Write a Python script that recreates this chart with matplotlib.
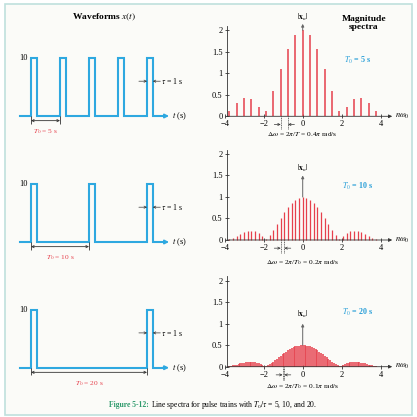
import matplotlib
matplotlib.use("Agg")
import matplotlib.pyplot as plt
import numpy as np
from matplotlib.patches import Rectangle

plt.rcParams['font.family'] = ['Liberation Serif', 'DejaVu Serif']
plt.rcParams['mathtext.fontset'] = 'stix'

#pulse trains (left column)
amplitude = 10
tau = 1
periods = [5, 10, 20]
period_texts = ["$T_0$ = 5 s", "$T_0$ = 10 s", "$T_0$ = 20 s"]

#line spectra, read for n = 0, 1, 2, ... (spectra are symmetric)
mag_5 = [2.0, 1.88, 1.56, 1.1, 0.59, 0.13, 0.22, 0.40, 0.42, 0.30, 0.12]
mag_10 = [1.0, 0.98, 0.94, 0.86, 0.76, 0.64, 0.51, 0.37, 0.23, 0.11, 0.03,
          0.09, 0.16, 0.20, 0.22, 0.21, 0.19, 0.15, 0.10, 0.05, 0.03]
mag_20 = [0.50, 0.50, 0.49, 0.48, 0.47, 0.45, 0.43, 0.41, 0.38, 0.35, 0.32,
          0.29, 0.25, 0.22, 0.18, 0.15, 0.12, 0.09, 0.06, 0.03, 0.01,
          0.02, 0.04, 0.06, 0.08, 0.09, 0.10, 0.105, 0.11, 0.11, 0.105,
          0.10, 0.095, 0.085, 0.075, 0.065, 0.05, 0.04, 0.03, 0.015, 0.01]
spectra = [mag_5, mag_10, mag_20]
line_spacing = [0.377, 0.1885, 0.0942]
dw_texts = [r"$\Delta\omega$ = 2$\pi$/$T$ = 0.4$\pi$ rad/s",
            r"$\Delta\omega$ = 2$\pi$/$T_0$ = 0.2$\pi$ rad/s",
            r"$\Delta\omega$ = 2$\pi$/$T_0$ = 0.1$\pi$ rad/s"]
dw_pairs = [(-3, -2), (-6, -5), (-11, -10)]

blue = '#2ea8e0'
red = '#e6404c'
dark = '#333333'
W = 417


def px_box(left, top, right, bottom):
    return [left / W, 1 - bottom / W, (right - left) / W, (bottom - top) / W]


def mirror(half):
    half = np.asarray(half)
    return np.concatenate([half[:0:-1], half])


fig = plt.figure(figsize=(W / 100, W / 100), dpi=100)
fig.patches.append(Rectangle((5 / W, 1 - 415 / W), 407 / W, 411 / W, transform=fig.transFigure,
                             facecolor='#fbfbf8', edgecolor='#bfe0dd', lw=1.2, zorder=-1))

fig.text(104 / W, 1 - 17 / W, "Waveforms $x(t)$", ha='center', va='center', fontsize=6.8, weight='bold')
fig.text(364 / W, 1 - 23 / W, "Magnitude\nspectra", ha='center', va='center', fontsize=6.8,
         weight='bold', linespacing=1.1)

wave_base = [116, 242, 367.7]
spec_base = [116.3, 240, 366.7]
xn_tip = [2.15, 1.5, 1.0]
xn_label = [2.3, 1.67, 1.22]
dw_text_y = [-0.33, -0.43, -0.36]
t0_label_y = [1.31, 1.25, 1.27]

for i, T0 in enumerate(periods):
    #waveform
    sc = 5.8
    b = wave_base[i]
    ax = fig.add_axes(px_box(31 - 3 * sc, b - 15 * sc, 31 + 30 * sc, b + 3.5 * sc))
    ax.set_xlim(-3, 30)
    ax.set_ylim(-3.5, 15)
    ax.axis('off')
    t = [-1.9]
    x = [0]
    k = 0
    while k * T0 < 23:
        s = k * T0
        t += [s, s, s + tau, s + tau]
        x += [0, amplitude, amplitude, 0]
        k += 1
    t.append(23.0)
    x.append(0)
    ax.plot(t, x, color=blue, lw=1.5, solid_joinstyle='miter')
    ax.annotate('', xy=(23.8, 0), xytext=(22.6, 0),
                arrowprops=dict(arrowstyle='-|>', color=blue, lw=1.2, mutation_scale=6,
                                shrinkA=0, shrinkB=0))
    ax.text(24.3, 0, "$t$ (s)", ha='left', va='center', fontsize=6)
    ax.text(-0.6, amplitude, "10", ha='right', va='center', fontsize=6)
    last = (k - 1) * T0
    ty = 6
    ax.annotate('', xy=(last, ty), xytext=(last - 1.4, ty),
                arrowprops=dict(arrowstyle='->', color=dark, lw=0.5, mutation_scale=4,
                                shrinkA=0, shrinkB=0))
    ax.annotate('', xy=(last + tau, ty), xytext=(last + tau + 1.3, ty),
                arrowprops=dict(arrowstyle='->', color=dark, lw=0.5, mutation_scale=4,
                                shrinkA=0, shrinkB=0))
    ax.text(last + tau + 1.4, ty, r"$\tau$ = 1 s", ha='left', va='center', fontsize=5.6)
    ax.vlines([0, T0], -1.3, 0, color=dark, lw=0.6)
    ax.annotate('', xy=(0, -0.8), xytext=(T0, -0.8),
                arrowprops=dict(arrowstyle='<->', color=dark, lw=0.6, mutation_scale=4,
                                shrinkA=0, shrinkB=0))
    ax.text(T0 / 2, -1.9, period_texts[i], ha='center', va='top', fontsize=5.3, color=red)

    #spectrum
    ys = 43
    x_sc = 19.45
    y0 = spec_base[i]
    sx = fig.add_axes(px_box(302.7 - 4.4 * x_sc, y0 - 2.45 * ys, 302.7 + 5.6 * x_sc, y0 + 0.55 * ys))
    sx.patch.set_visible(False)
    sx.set_xlim(-4.4, 5.6)
    sx.set_ylim(-0.55, 2.45)
    for side in ['top', 'right', 'bottom']:
        sx.spines[side].set_visible(False)
    sx.spines['left'].set_position(('data', -3.9))
    sx.spines['left'].set_bounds(0, 2.1)
    sx.spines['left'].set_linewidth(0.6)
    sx.spines['left'].set_color(dark)
    sx.spines['bottom'].set_position(('data', 0))
    sx.set_xticks([-4, -2, 0, 2, 4])
    sx.set_xticklabels(['\u22124', '\u22122', '0', '2', '4'])
    sx.set_yticks([0, 0.5, 1, 1.5, 2])
    sx.set_yticklabels(['0', '0.5', '1', '1.5', '2'])
    sx.tick_params(direction='inout', length=3, width=0.6, color=dark, labelsize=6, pad=1.5)
    sx.annotate('', xy=(4.6, 0), xytext=(-3.9, 0),
                arrowprops=dict(arrowstyle='-|>', color=dark, lw=0.6, mutation_scale=5,
                                shrinkA=0, shrinkB=0))
    sx.text(4.75, 0, r"$n\omega_0$", ha='left', va='center', fontsize=6)

    mags = mirror(spectra[i])
    half_n = len(spectra[i]) - 1
    n = np.arange(-half_n, half_n + 1)
    lw = [1.1, 0.9, 1.1][i]
    sx.vlines(n * line_spacing[i], 0, mags, color=red, lw=lw)

    sx.annotate('', xy=(0, xn_tip[i]), xytext=(0, spectra[i][0]),
                arrowprops=dict(arrowstyle='-|>', color='#666666', lw=0.7, mutation_scale=4,
                                shrinkA=0, shrinkB=0))
    sx.text(0, xn_label[i], r"$|\mathbf{x}_n|$", ha='center', va='center', fontsize=5.5)
    sx.text(2.8, t0_label_y[i], period_texts[i], ha='center', va='center', fontsize=5.8,
            color='#2a9fd8', weight='bold')

    xa = dw_pairs[i][0] * line_spacing[i]
    xb = dw_pairs[i][1] * line_spacing[i]
    sx.vlines([xa, xb], -0.3, 0, color=dark, lw=0.5, linestyles=(0, (1.5, 1)))
    sx.annotate('', xy=(xa, -0.19), xytext=(xa - 0.33, -0.19),
                arrowprops=dict(arrowstyle='->', color=dark, lw=0.5, mutation_scale=4,
                                shrinkA=0, shrinkB=0))
    sx.annotate('', xy=(xb, -0.19), xytext=(xb + 0.33, -0.19),
                arrowprops=dict(arrowstyle='->', color=dark, lw=0.5, mutation_scale=4,
                                shrinkA=0, shrinkB=0))
    sx.text(0, dw_text_y[i], dw_texts[i], ha='center', va='top', fontsize=5.3)

#caption
fig.text(149 / W, 1 - 405 / W, "Figure 5-12:", ha='right', va='center', fontsize=5.5,
         color='#2e9a6c', weight='bold')
fig.text(151 / W, 1 - 405 / W, r"Line spectra for pulse trains with $T_0/\tau$ = 5, 10, and 20.",
         ha='left', va='center', fontsize=5.5)

fig.savefig('out.png', dpi=100)
